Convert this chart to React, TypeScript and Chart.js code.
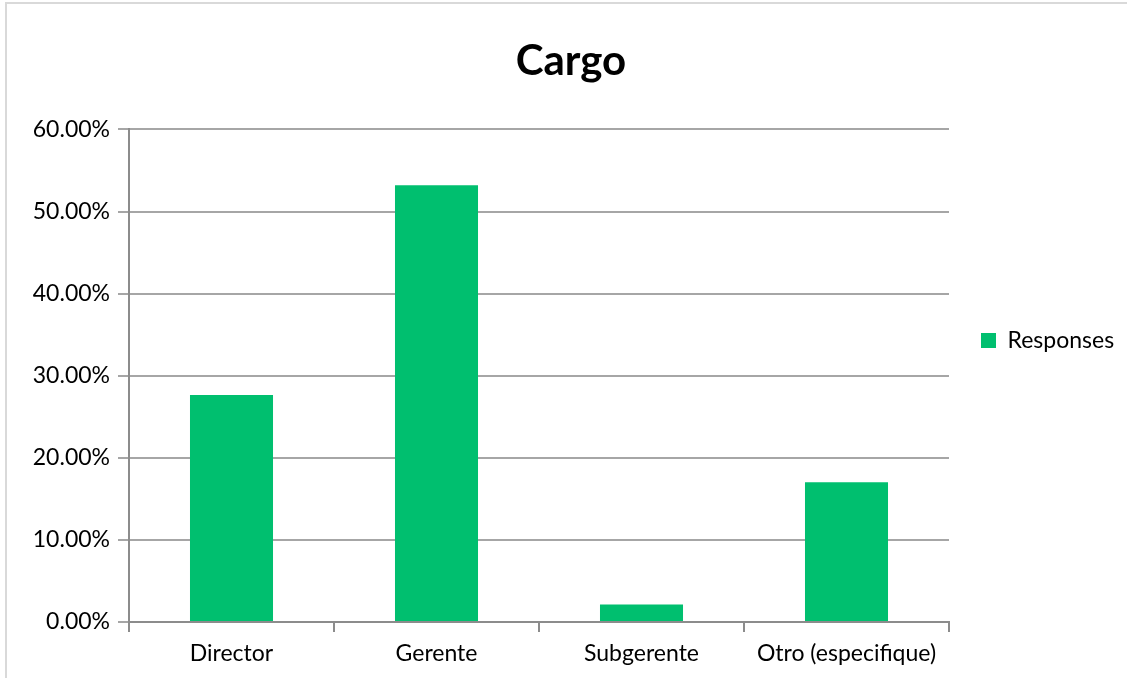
import React, { useEffect, useRef } from "react";
import { Chart, registerables } from "chart.js";

Chart.register(...registerables);

const categories = ["Director", "Gerente", "Subgerente", "Otro (especifique)"];
const responses = [27.66, 53.19, 2.13, 17.02];
const yTicks = [0, 10, 20, 30, 40, 50, 60];
const seriesName = "Responses";
const titleText = "Cargo";

const FONT = "Lato";
const LEGEND_WIDTH = 178;

const framePlugin = {
  id: "frame",
  beforeLayout(chart: any) {
    const lg = chart.legend;
    if (lg && !lg.__fixedWidth) {
      const orig = lg.fit.bind(lg);
      lg.fit = function () {
        orig();
        this.width = LEGEND_WIDTH;
      };
      lg.__fixedWidth = true;
    }
  },
  beforeDraw(chart: any) {
    const { ctx, width, height } = chart;
    ctx.save();
    ctx.fillStyle = "#ffffff";
    ctx.fillRect(0, 0, width, height);
    ctx.strokeStyle = "#d9d9d9";
    ctx.lineWidth = 2;
    ctx.beginPath();
    ctx.moveTo(6, height);
    ctx.lineTo(6, 3);
    ctx.lineTo(width, 3);
    ctx.stroke();
    ctx.restore();
  },
};

export default function App() {
  const ref = useRef<HTMLCanvasElement>(null);
  useEffect(() => {
    document.body.style.margin = "0";
    const canvas = ref.current!;
    const chart = new Chart(canvas, {
      type: "bar",
      data: {
        labels: categories,
        datasets: [
          {
            label: seriesName,
            data: responses,
            backgroundColor: "#00BF6F",
            borderWidth: 0,
            barPercentage: 0.405,
            categoryPercentage: 1,
          },
        ],
      },
      options: {
        responsive: false,
        animation: false,
        devicePixelRatio: 1,
        layout: { padding: { left: 15, top: 3, right: 0, bottom: 0 } },
        plugins: {
          title: {
            display: true,
            text: titleText,
            color: "#000000",
            font: { family: FONT, size: 42, weight: "bold" },
            padding: { top: 33, bottom: 43 },
          },
          legend: {
            position: "right",
            labels: {
              boxWidth: 15,
              boxHeight: 15,
              color: "#000000",
              font: { family: FONT, size: 23 },
              padding: 32,
            },
          },
          tooltip: { enabled: false },
        },
        scales: {
          x: {
            grid: {
              offset: true,
              drawOnChartArea: false,
              drawTicks: true,
              tickLength: 10,
              color: "#8c8c8c",
              lineWidth: 2,
            },
            border: { color: "#8c8c8c", width: 2 },
            ticks: {
              color: "#000000",
              font: { family: FONT, size: 23 },
              padding: 8,
              maxRotation: 0,
              autoSkip: false,
            },
            afterFit(scale: any) {
              scale.height = 56;
            },
          },
          y: {
            min: 0,
            max: 60,
            afterBuildTicks(scale: any) {
              scale.ticks = yTicks.map((v) => ({ value: v }));
            },
            grid: {
              color: "#a6a6a6",
              lineWidth: 2,
              tickLength: 11,
            },
            border: { color: "#8c8c8c", width: 2 },
            ticks: {
              color: "#000000",
              font: { family: FONT, size: 23 },
              padding: 8,
              callback: (v: any) => Number(v).toFixed(2) + "%",
            },
            afterFit(scale: any) {
              scale.width = 114;
            },
          },
        },
      },
      plugins: [framePlugin],
    });
    return () => chart.destroy();
  }, []);
  return (
    <div style={{ width: 1127, height: 678 }}>
      <canvas ref={ref} width={1127} height={678} />
    </div>
  );
}
